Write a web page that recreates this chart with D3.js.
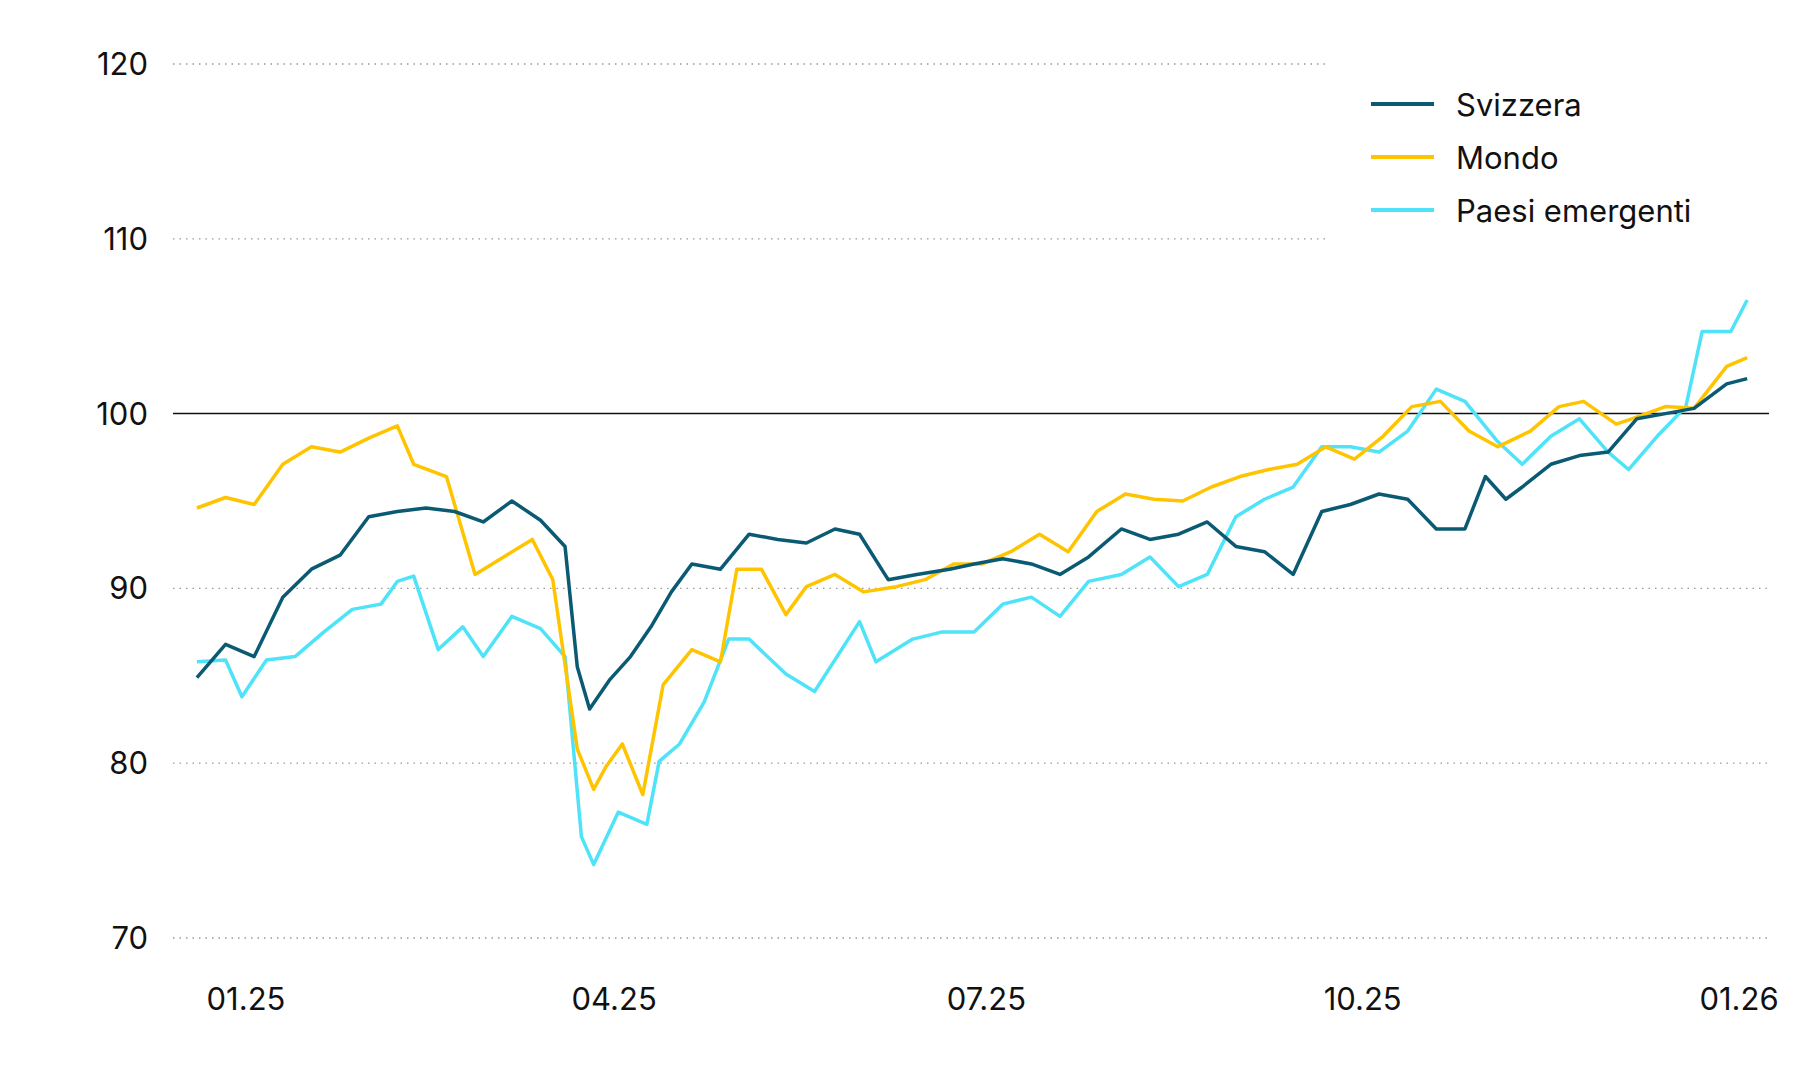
<!DOCTYPE html><html><head><meta charset="utf-8">
<script src="https://cdn.jsdelivr.net/npm/d3@7"></script>
<style>body{margin:0;background:#fff}svg text{font-family:Inter,"Noto Sans",sans-serif;fill:#111}</style>
</head><body><svg id="c" width="1800" height="1080"></svg>
<script>
// day = days since 2025-01-01
const swissDays=[-12,-5,2,9,16,23,30,37,44,51,58,65,72,78,81,84,89,94,99,104,109,116,123,130,137,144,150,157,164,172,178,185,192,199,206,214,221,228,235,242,249,256,263,270,277,284,291,298,303,308,312,319,326,333,340,347,354,362,367];
const swissVals=[84.9,86.8,86.1,89.5,91.1,91.9,94.1,94.4,94.6,94.4,93.8,95.0,93.9,92.4,85.5,83.1,84.8,86.1,87.8,89.8,91.4,91.1,93.1,92.8,92.6,93.4,93.1,90.5,90.8,91.1,91.4,91.7,91.4,90.8,91.8,93.4,92.8,93.1,93.8,92.4,92.1,90.8,94.4,94.8,95.4,95.1,93.4,93.4,96.4,95.1,95.8,97.1,97.6,97.8,99.7,100,100.3,101.7,102];
const worldDays=[-12,-5,2,9,16,23,30,37,41,49,56,63,70,75,81,85,88,92,97,102,109,116,120,126,132,137,144,151,159,166,173,180,187,194,201,208,215,222,229,236,243,250,257,264,271,278,285,292,299,306,314,321,327,335,340,347,354,362,367];
const worldVals=[94.6,95.2,94.8,97.1,98.1,97.8,98.6,99.3,97.1,96.4,90.8,91.8,92.8,90.5,80.8,78.5,79.8,81.1,78.2,84.5,86.5,85.8,91.1,91.1,88.5,90.1,90.8,89.8,90.1,90.5,91.4,91.4,92.1,93.1,92.1,94.4,95.4,95.1,95.0,95.8,96.4,96.8,97.1,98.1,97.4,98.7,100.4,100.7,99.0,98.1,99.0,100.4,100.7,99.4,99.8,100.4,100.3,102.7,103.2];
const emDays=[-12,-5,-1,5,12,19,26,33,37,41,47,53,58,65,72,78,82,85,91,98,101,106,112,118,123,132,139,150,154,163,170,178,185,192,199,206,214,221,228,235,242,249,256,263,270,277,284,291,298,306,312,319,326,333,338,345,352,356,363,367];
const emVals=[85.8,85.9,83.8,85.9,86.1,87.5,88.8,89.1,90.4,90.7,86.5,87.8,86.1,88.4,87.7,86.1,75.8,74.2,77.2,76.5,80.1,81.1,83.5,87.1,87.1,85.1,84.1,88.1,85.8,87.1,87.5,87.5,89.1,89.5,88.4,90.4,90.8,91.8,90.1,90.8,94.1,95.1,95.8,98.1,98.1,97.8,99.0,101.4,100.7,98.4,97.1,98.7,99.7,97.8,96.8,98.7,100.4,104.7,104.7,106.5];
const seriesNames=["Svizzera","Mondo","Paesi emergenti"];
const seriesColors=["#0b5a73","#ffc400","#4ee3f8"];
const yTicks=[70,80,90,100,110,120];
const xTickLabels=["01.25","04.25","07.25","10.25","01.26"];
const xTickDates=["2025-01-01","2025-04-01","2025-07-01","2025-10-01","2026-01-01"];

const base=new Date(2025,0,1);
const toSeries=(d,v)=>d.map((k,i)=>({date:d3.timeDay.offset(base,k),v:v[i]}));
const series=[toSeries(swissDays,swissVals),toSeries(worldDays,worldVals),toSeries(emDays,emVals)];
const svg=d3.select("#c");
const x=d3.scaleTime().domain([new Date(2025,0,1),new Date(2026,0,1)]).range([246,1739]);
const y=d3.scaleLinear().domain([70,120]).range([938,64]);
yTicks.forEach(t=>{
  if(t===100) return;
  svg.append("line").attr("x1",173).attr("x2",t>=110?1327:1769).attr("y1",y(t)).attr("y2",y(t))
    .attr("stroke","#999").attr("stroke-width",1.3).attr("stroke-dasharray","1.5,5");
  svg.append("text").attr("x",148).attr("y",y(t)+11).attr("text-anchor","end").attr("font-size",31).text(t);
});
svg.append("text").attr("x",148).attr("y",y(100)+11).attr("text-anchor","end").attr("font-size",31).text(100);
svg.append("line").attr("x1",173).attr("x2",1769).attr("y1",y(100)).attr("y2",y(100)).attr("stroke","#111").attr("stroke-width",1.5);
xTickDates.forEach((d,i)=>{
  svg.append("text").attr("x",x(d3.isoParse(d))).attr("y",1010).attr("text-anchor","middle").attr("font-size",31).text(xTickLabels[i]);
});
const line=d3.line().x(d=>x(d.date)).y(d=>y(d.v));
[2,1,0].forEach(i=>{
  svg.append("path").datum(series[i]).attr("d",line).attr("fill","none").attr("stroke",seriesColors[i]).attr("stroke-width",3.5).attr("stroke-linejoin","round");
});
seriesNames.forEach((n,i)=>{
  const yy=106+i*53;
  svg.append("line").attr("x1",1371).attr("x2",1434).attr("y1",yy-2).attr("y2",yy-2).attr("stroke",seriesColors[i]).attr("stroke-width",4);
  svg.append("text").attr("x",1456).attr("y",yy+10).attr("font-size",31).text(n);
});
</script></body></html>
